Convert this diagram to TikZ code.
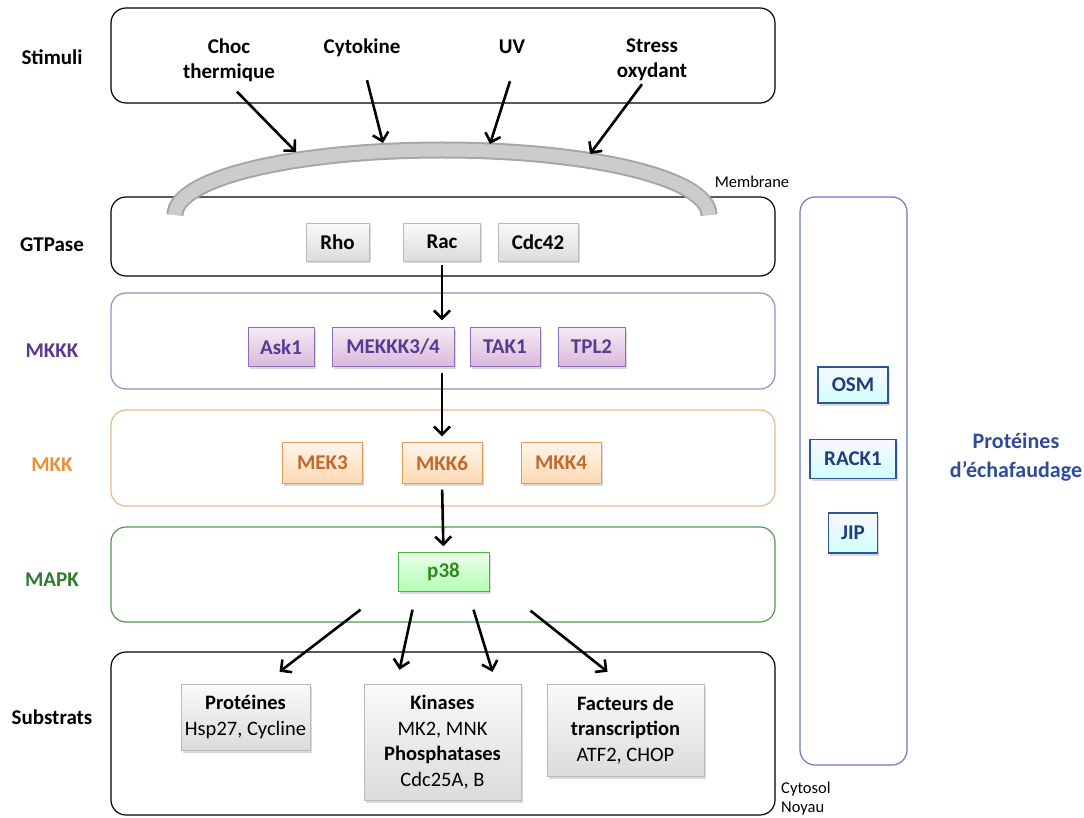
\documentclass[tikz,border=0pt]{standalone}
\usepackage{fontspec}
\setmainfont{Carlito}
\usetikzlibrary{arrows.meta,shadows,positioning}

\definecolor{mkkkline}{HTML}{9A8BC4}
\definecolor{mkkktext}{HTML}{5A3990}
\definecolor{mkkkbord}{HTML}{8A70B8}
\definecolor{mkkbord}{HTML}{E89A55}
\definecolor{mkkline}{HTML}{E6B98A}
\definecolor{mkktext}{HTML}{C0692A}
\definecolor{mkklabel}{HTML}{E8913A}
\definecolor{mapkline}{HTML}{4E9A4E}
\definecolor{mapktext}{HTML}{2F8A22}
\definecolor{mapklabel}{HTML}{2E7A2E}
\definecolor{scafline}{HTML}{6A7BB8}
\definecolor{scafbord}{HTML}{2F5597}
\definecolor{scaftext}{HTML}{1F3D7A}
\definecolor{scaflabel}{HTML}{2F4B9A}

\begin{document}
\begin{tikzpicture}[x=1pt,y=-1pt,font=\fontsize{21}{25}\selectfont]
  \tikzstyle{layer}=[draw, rounded corners=15pt, line width=1.2pt, minimum width=664pt]
  \tikzstyle{lab}=[font=\fontsize{21}{25}\selectfont\bfseries, inner sep=2pt]
  \tikzstyle{side}=[lab, text height=14pt, text depth=4pt]
  \tikzstyle{box}=[rectangle, inner sep=0pt, minimum height=38pt, font=\fontsize{21}{25}\selectfont\bfseries,
    drop shadow={shadow xshift=1.5pt, shadow yshift=-2.5pt, opacity=.3}]
  \tikzstyle{gtp}=[box, draw=gray!55, top color=gray!4, bottom color=gray!28]
  \tikzstyle{mkkk}=[box, draw=mkkkbord, top color=violet!8, bottom color=violet!28, text=mkkktext, minimum height=39pt]
  \tikzstyle{mkk}=[box, draw=mkkbord, top color=orange!8, bottom color=orange!30, text=mkktext, minimum height=41pt, minimum width=80pt]
  \tikzstyle{mapk}=[box, draw=green!45!gray, top color=green!8, bottom color=green!30, text=mapktext, minimum height=39pt]
  \tikzstyle{scaf}=[box, draw=scafbord, line width=1.6pt, top color=blue!3, bottom color=cyan!18, text=scaftext]
  \tikzstyle{sub}=[box, draw=gray!55, top color=gray!4, bottom color=gray!28, align=center,
    font=\fontsize{20.5}{25.5}\selectfont]
  \tikzstyle{arr}=[-{Straight Barb[length=8pt,width=16pt]}, line width=2.6pt]
  \tikzstyle{small}=[font=\fontsize{16.5}{19}\selectfont, inner sep=1pt]

  \useasboundingbox (0,0) rectangle (1084,818);

  % layers
  \node[layer, minimum height=95pt] (stim) at (443,55.5) {};
  \node[layer, minimum height=79pt] (gtpase) at (443,236.5) {};
  \node[layer, draw=mkkkline, minimum height=96pt] (lmkkk) at (443,341) {};
  \node[layer, draw=mkkline, minimum height=96pt] (lmkk) at (443,458) {};
  \node[layer, draw=mapkline, minimum height=95pt] (lmapk) at (443,574.5) {};
  \node[layer, minimum height=163pt] (subs) at (443,733.5) {};
  \node[draw=scafline, line width=1.2pt, rounded corners=15pt, minimum width=107pt, minimum height=568pt] (scaffold) at (853.5,481) {};

  % side labels
  \node[side] (lstim) at (52,60) {Stimuli};
  \node[side] (lgtp) at (52,247) {GTPase};
  \node[side, text=mkkktext] (lmkkklab) at (52,352) {MKKK};
  \node[side, text=mkklabel] (lmkklab) at (52,466) {MKK};
  \node[side, text=mapklabel] (lmapklab) at (52,581) {MAPK};
  \node[side] (lsubs) at (52,719) {Substrats};

  % stimuli
  \node[lab, align=center] (choc) at (229,60) {Choc\\thermique};
  \node[side] (cyto) at (362,49) {Cytokine};
  \node[side] (uv) at (512,49) {UV};
  \node[lab, align=center] (stress) at (652,60) {Stress\\oxydant};

  % membrane
  \draw[line width=17pt, gray!70] (175,215) .. controls (175,178) and (295,150) .. (442,150)
    .. controls (589,150) and (709,178) .. (709,215);
  \draw[line width=13pt, gray!40] (175,215) .. controls (175,178) and (295,150) .. (442,150)
    .. controls (589,150) and (709,178) .. (709,215);
  \node[small] (membrane) at (752,182) {Membrane};
  \coordinate (m1) at (296,152);
  \coordinate (m2) at (383,143);
  \coordinate (m3) at (490,144);
  \coordinate (m4) at (590,154);

  \draw[arr] ([xshift=8pt,yshift=-8pt]choc.south) -- (m1);
  \draw[arr] ([xshift=5pt,yshift=-20pt]cyto.south) -- (m2);
  \draw[arr] ([xshift=-2pt,yshift=-21pt]uv.south) -- (m3);
  \draw[arr] ([xshift=-10pt,yshift=-1pt]stress.south) -- (m4);

  % GTPase
  \node[gtp, minimum width=63pt] (rho) at (337.5,242) {Rho};
  \node[gtp, minimum width=77pt] (rac) at (442,242) {Rac};
  \node[gtp, minimum width=80pt] (cdc) at (538,242) {Cdc42};

  % MKKK
  \node[mkkk, minimum width=66pt] (ask) at (281,347) {Ask1};
  \node[mkkk, minimum width=122pt] (mekkk) at (393,347) {MEKKK3/4};
  \node[mkkk, minimum width=70pt] (tak) at (505,347) {TAK1};
  \node[mkkk, minimum width=67pt] (tpl) at (591.5,347) {TPL2};

  % MKK
  \node[mkk] (mek3) at (322.5,463) {MEK3};
  \node[mkk] (mkk6) at (442,463) {MKK6};
  \node[mkk] (mkk4) at (561,463) {MKK4};

  % MAPK
  \node[mapk, minimum width=91pt] (p38) at (443.5,572) {p38};

  % substrats
  \node[sub, minimum width=129pt, minimum height=66pt] (prot) at (245.5,717)
    {\textbf{Protéines}\\Hsp27, Cycline};
  \node[sub, minimum width=157pt, minimum height=116pt] (kin) at (442.5,742)
    {\textbf{Kinases}\\MK2, MNK\\\textbf{Phosphatases}\\Cdc25A, B};
  \node[sub, minimum width=157pt, minimum height=92pt] (fact) at (625.5,730)
    {\textbf{Facteurs de}\\\textbf{transcription}\\ATF2, CHOP};

  % cascade
  \draw[arr, shorten <=4pt, shorten >=7pt] (rac.south) -- (rac.south |- mekkk.north);
  \draw[arr, shorten <=6pt, shorten >=6pt] (mkk6.north |- mekkk.south) -- (mkk6.north);
  \draw[arr, shorten <=6pt, shorten >=6pt] (mkk6.south) -- (p38.north);
  \draw[arr] ([xshift=-83pt,yshift=-18pt]p38.south) -- ([xshift=34pt,yshift=12pt]prot.north);
  \draw[arr] ([xshift=-31pt,yshift=-18pt]p38.south) -- ([xshift=-43pt,yshift=14pt]kin.north);
  \draw[arr] ([xshift=30pt,yshift=-18pt]p38.south) -- ([xshift=50pt,yshift=12pt]kin.north);
  \draw[arr] ([xshift=87pt,yshift=-19pt]p38.south) -- ([xshift=-18pt,yshift=12pt]fact.north);

  % scaffold
  \node[scaf, minimum width=70pt, minimum height=36pt] (osm) at (853,385) {OSM};
  \node[scaf, minimum width=86pt, minimum height=39pt] (rack) at (853,459) {RACK1};
  \node[scaf, minimum width=49pt, minimum height=40pt] (jip) at (853,533) {JIP};
  \node[font=\fontsize{22}{29}\selectfont\bfseries, text=scaflabel, align=center] (scaflab) at (1016,457)
    {Protéines\\d’échafaudage};

  \node[small, anchor=west, align=left] (cyt) at (780,799) {Cytosol\\Noyau};
\end{tikzpicture}
\end{document}
